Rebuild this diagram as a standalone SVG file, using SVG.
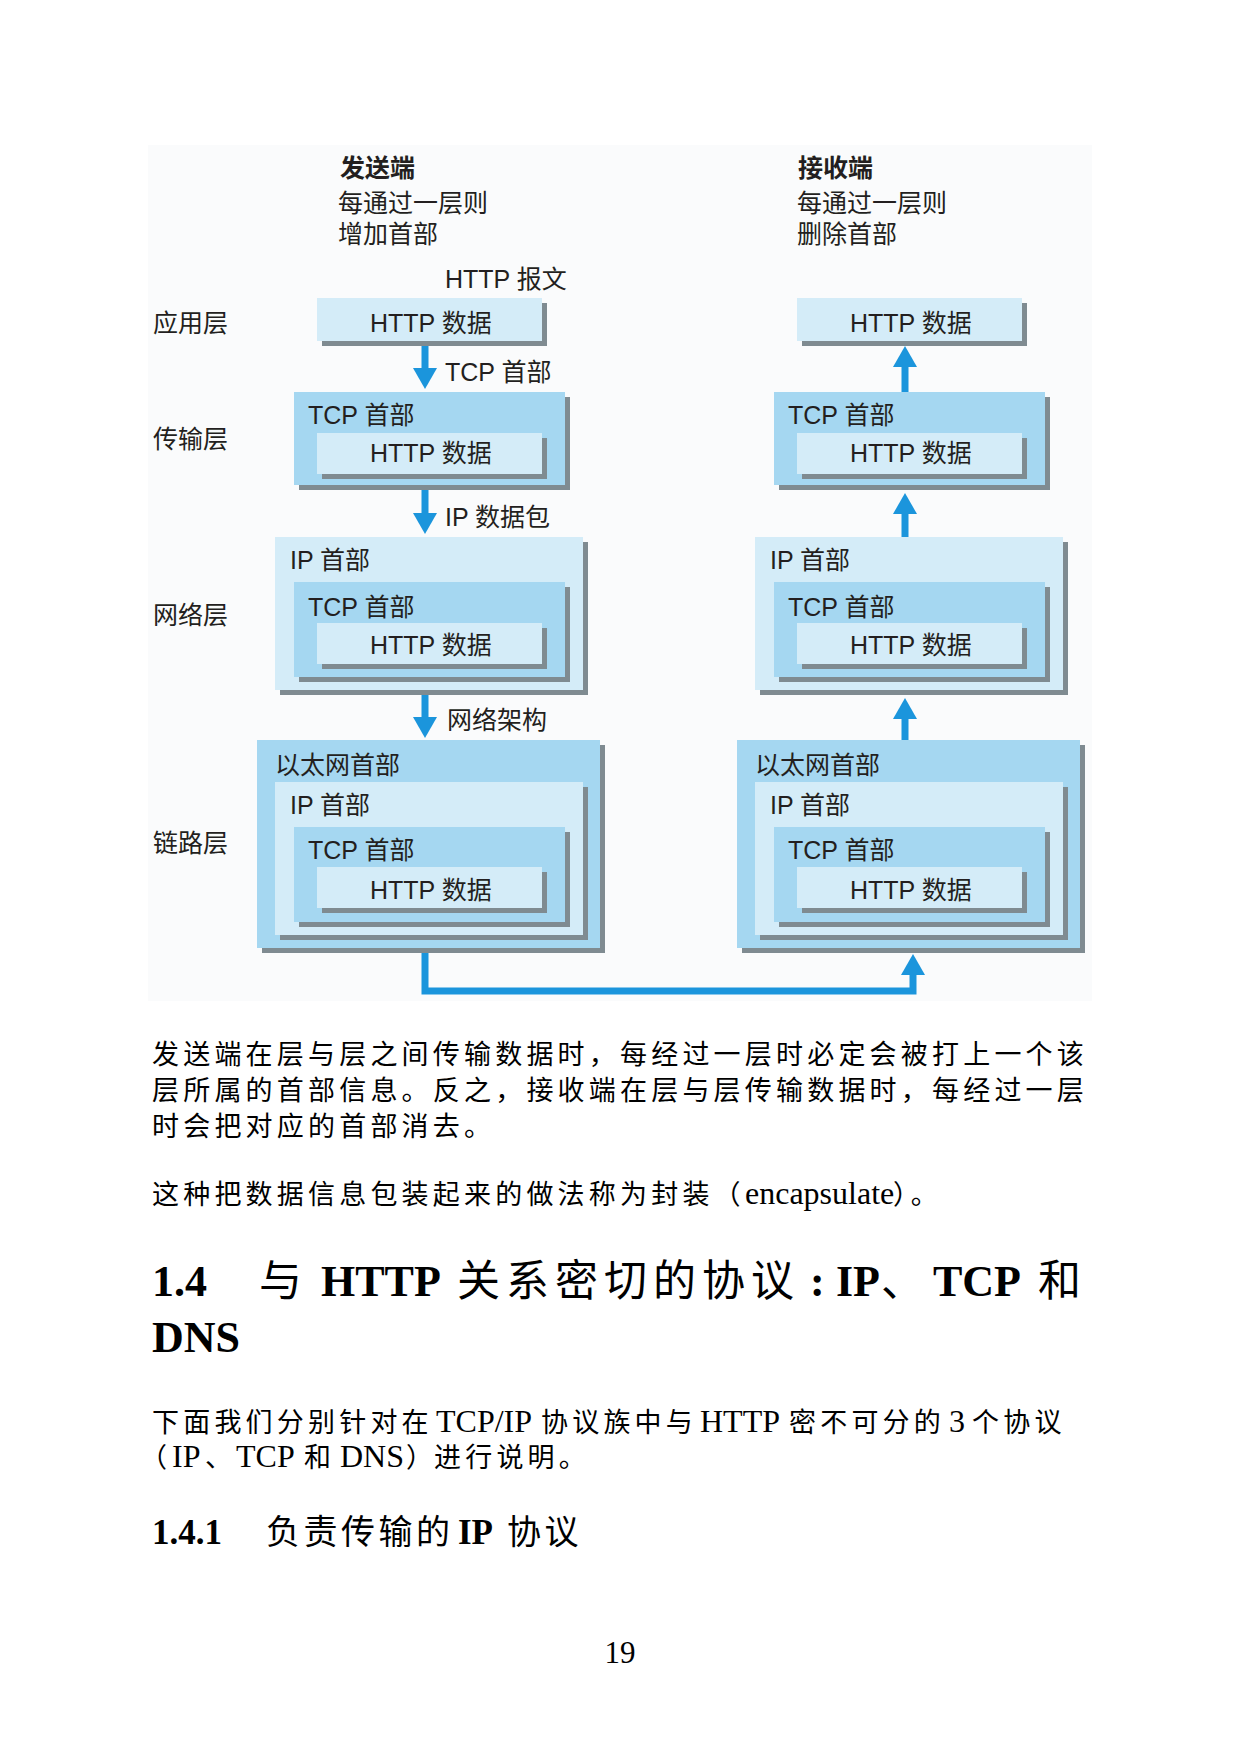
<svg xmlns="http://www.w3.org/2000/svg" width="1241" height="1754" viewBox="0 0 1241 1754">
<defs>
<style>
.lbl{font-family:"Liberation Sans","Noto Sans CJK SC",sans-serif;font-size:25px;fill:#231f20}
.b{font-weight:bold}
.body{font-family:"Liberation Serif","Noto Sans CJK SC",serif;fill:#000}
.cjk{font-size:27px;letter-spacing:4.2px}
.lat{font-size:32px;letter-spacing:0}
.light{fill:#d4ecf8}
.mid{fill:#a5d7f1}
.sh{fill:#7f8b91}
.arrow{stroke:#1b95dc;stroke-width:7;fill:none;marker-end:url(#ah)}
</style>
<marker id="ah" markerUnits="userSpaceOnUse" markerWidth="22" markerHeight="24" viewBox="0 0 21 24" refX="1" refY="12" orient="auto">
<path d="M0,0 L21,12 L0,24 z" fill="#1b95dc"/>
</marker>
</defs>
<rect width="1241" height="1754" fill="#ffffff"/>
<rect x="148" y="145" width="944" height="856" fill="#fafbfc"/>

<g id="captions" class="lbl">
<text x="340" y="177" class="b">发送端</text>
<text x="338" y="212">每通过一层则</text>
<text x="338" y="243">增加首部</text>
<text x="798" y="177" class="b">接收端</text>
<text x="797" y="212">每通过一层则</text>
<text x="797" y="243">删除首部</text>
<text x="445" y="288">HTTP 报文</text>
</g>

<g id="layer-labels" class="lbl">
<text x="153" y="332">应用层</text>
<text x="153" y="448">传输层</text>
<text x="153" y="624">网络层</text>
<text x="153" y="852">链路层</text>
</g>

<g id="send-app">
<rect class="sh" x="322" y="303" width="225" height="43"/>
<rect class="light" x="317" y="298" width="225" height="43"/>
<text class="lbl" x="370" y="332">HTTP 数据</text>
</g>
<g id="send-transport">
<rect class="sh" x="299" y="397" width="271" height="93"/>
<rect class="mid" x="294" y="392" width="271" height="93"/>
<text class="lbl" x="308" y="424">TCP 首部</text>
<rect class="sh" x="322" y="438" width="225" height="41"/>
<rect class="light" x="317" y="433" width="225" height="41"/>
<text class="lbl" x="370" y="462">HTTP 数据</text>
</g>
<g id="send-network">
<rect class="sh" x="280" y="542" width="308" height="153"/>
<rect class="light" x="275" y="537" width="308" height="153"/>
<text class="lbl" x="290" y="569">IP 首部</text>
<rect class="sh" x="299" y="587" width="271" height="95"/>
<rect class="mid" x="294" y="582" width="271" height="95"/>
<text class="lbl" x="308" y="616">TCP 首部</text>
<rect class="sh" x="322" y="628" width="225" height="41"/>
<rect class="light" x="317" y="623" width="225" height="41"/>
<text class="lbl" x="370" y="654">HTTP 数据</text>
</g>
<g id="send-link">
<rect class="sh" x="262" y="745" width="343" height="208"/>
<rect class="mid" x="257" y="740" width="343" height="208"/>
<text class="lbl" x="275" y="774">以太网首部</text>
<rect class="sh" x="280" y="787" width="308" height="153"/>
<rect class="light" x="275" y="782" width="308" height="153"/>
<text class="lbl" x="290" y="814">IP 首部</text>
<rect class="sh" x="299" y="832" width="271" height="95"/>
<rect class="mid" x="294" y="827" width="271" height="95"/>
<text class="lbl" x="308" y="859">TCP 首部</text>
<rect class="sh" x="322" y="872" width="225" height="41"/>
<rect class="light" x="317" y="867" width="225" height="41"/>
<text class="lbl" x="370" y="899">HTTP 数据</text>
</g>

<g id="recv-app">
<rect class="sh" x="802" y="303" width="225" height="43"/>
<rect class="light" x="797" y="298" width="225" height="43"/>
<text class="lbl" x="850" y="332">HTTP 数据</text>
</g>
<g id="recv-transport">
<rect class="sh" x="779" y="397" width="271" height="93"/>
<rect class="mid" x="774" y="392" width="271" height="93"/>
<text class="lbl" x="788" y="424">TCP 首部</text>
<rect class="sh" x="802" y="438" width="225" height="41"/>
<rect class="light" x="797" y="433" width="225" height="41"/>
<text class="lbl" x="850" y="462">HTTP 数据</text>
</g>
<g id="recv-network">
<rect class="sh" x="760" y="542" width="308" height="153"/>
<rect class="light" x="755" y="537" width="308" height="153"/>
<text class="lbl" x="770" y="569">IP 首部</text>
<rect class="sh" x="779" y="587" width="271" height="95"/>
<rect class="mid" x="774" y="582" width="271" height="95"/>
<text class="lbl" x="788" y="616">TCP 首部</text>
<rect class="sh" x="802" y="628" width="225" height="41"/>
<rect class="light" x="797" y="623" width="225" height="41"/>
<text class="lbl" x="850" y="654">HTTP 数据</text>
</g>
<g id="recv-link">
<rect class="sh" x="742" y="745" width="343" height="208"/>
<rect class="mid" x="737" y="740" width="343" height="208"/>
<text class="lbl" x="755" y="774">以太网首部</text>
<rect class="sh" x="760" y="787" width="308" height="153"/>
<rect class="light" x="755" y="782" width="308" height="153"/>
<text class="lbl" x="770" y="814">IP 首部</text>
<rect class="sh" x="779" y="832" width="271" height="95"/>
<rect class="mid" x="774" y="827" width="271" height="95"/>
<text class="lbl" x="788" y="859">TCP 首部</text>
<rect class="sh" x="802" y="872" width="225" height="41"/>
<rect class="light" x="797" y="867" width="225" height="41"/>
<text class="lbl" x="850" y="899">HTTP 数据</text>
</g>

<g id="connectors">
<path class="arrow" d="M425,346 V369"/>
<path class="arrow" d="M425,490 V514"/>
<path class="arrow" d="M425,695 V718"/>
<path class="arrow" d="M905,392 V366"/>
<path class="arrow" d="M905,537 V513"/>
<path class="arrow" d="M905,740 V718"/>
<path class="arrow" d="M425,953 V991 H913 V974"/>
<g class="lbl">
<text x="445" y="381">TCP 首部</text>
<text x="445" y="526">IP 数据包</text>
<text x="447" y="729">网络架构</text>
</g>
</g>

<g id="body-text" class="body">
<text class="cjk" x="152" y="1064">发送端在层与层之间传输数据时，每经过一层时必定会被打上一个该</text>
<text class="cjk" x="152" y="1100">层所属的首部信息。反之，接收端在层与层传输数据时，每经过一层</text>
<text class="cjk" x="152" y="1136">时会把对应的首部消去。</text>
<text x="152" y="1204"><tspan class="cjk">这种把数据信息包装起来的做法称为封装（</tspan><tspan class="lat" x="745" font-size="31">encapsulate</tspan><tspan class="cjk" x="893">）。</tspan></text>

<text x="152" y="1296" font-size="44"><tspan font-weight="bold">1.4</tspan><tspan x="259" font-size="43">与</tspan><tspan x="321" font-weight="bold">HTTP</tspan><tspan x="457" font-size="43" letter-spacing="6">关系密切的协议</tspan><tspan x="810" font-weight="bold">:</tspan><tspan x="836" font-weight="bold">IP</tspan><tspan x="881" font-size="43">、</tspan><tspan x="933" font-weight="bold">TCP</tspan><tspan x="1038" font-size="43">和</tspan></text>
<text x="152" y="1352" font-size="44" font-weight="bold">DNS</text>

<text x="152" y="1432"><tspan class="cjk" letter-spacing="3.5">下面我们分别针对在</tspan><tspan class="lat" x="436" font-size="31">TCP/IP</tspan><tspan class="cjk" x="541">协议族中与</tspan><tspan class="lat" x="700">HTTP</tspan><tspan class="cjk" x="789">密不可分的</tspan><tspan class="lat" x="949">3</tspan><tspan class="cjk" x="972">个协议</tspan></text>
<text x="152" y="1467"><tspan class="cjk" x="140" letter-spacing="0">（</tspan><tspan class="lat" x="172">IP</tspan><tspan class="cjk" x="205" letter-spacing="0">、</tspan><tspan class="lat" x="236">TCP</tspan><tspan class="cjk" x="304" letter-spacing="0">和</tspan><tspan class="lat" x="340">DNS</tspan><tspan class="cjk" x="406" letter-spacing="0">）</tspan><tspan class="cjk" x="434">进行说明。</tspan></text>

<text x="152" y="1544"><tspan font-size="35" font-weight="bold">1.4.1</tspan><tspan x="266" font-size="34" letter-spacing="3.5">负责传输的</tspan><tspan x="458" font-size="35" font-weight="bold">IP</tspan><tspan x="507" font-size="34" letter-spacing="3.5">协议</tspan></text>

<text x="620" y="1663" font-size="31" text-anchor="middle">19</text>
</g>
</svg>
